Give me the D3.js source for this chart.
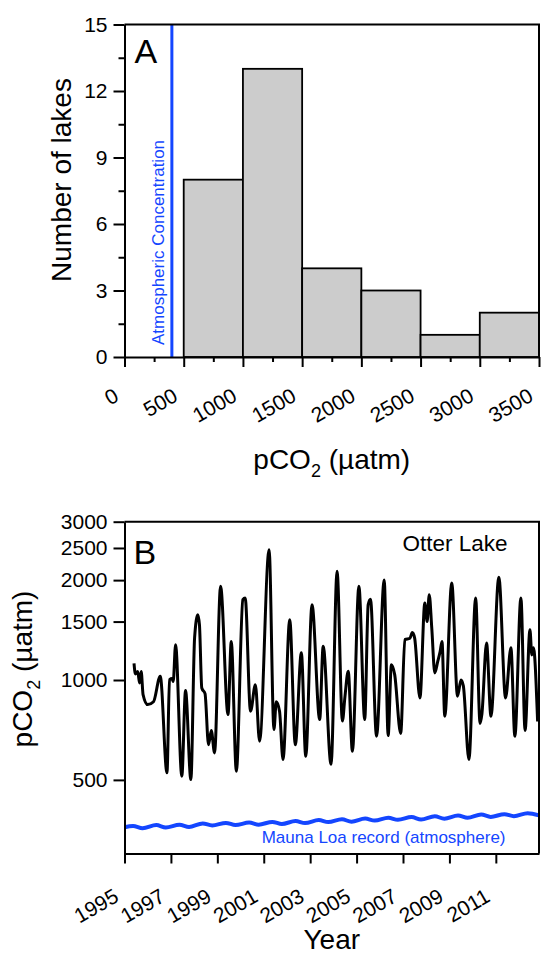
<!DOCTYPE html>
<meta charset="utf-8">
<style>

body {
  margin: 0;
  background: #fff;
}

text {
  font-family: "Liberation Sans", Arial, sans-serif;
  fill: #000;
}

.axis path,
.axis line {
  stroke: #000;
  stroke-width: 2px;
}

.axis text {
  font-size: 21px;
}

.minor line {
  stroke: #000;
  stroke-width: 2px;
}

.bars rect {
  fill: #cccccc;
  stroke: #000;
  stroke-width: 1.8px;
}

.title {
  font-size: 28px;
}

</style>
<body>
<svg width="541" height="955"></svg>
<script src="https://d3js.org/d3.v7.min.js"></script>
<script>

// panel A: histogram of lake pCO2
var binLow = [500, 1000, 1500, 2000, 2500, 3000];
var binHigh = [1000, 1500, 2000, 2500, 3000, 3500];
var lakeCounts = [8, 13, 4, 3, 1, 2];
var atmConc = 400;
var histXTicks = [0, 500, 1000, 1500, 2000, 2500, 3000, 3500];
var histXMinor = [250, 750, 1250, 1750, 2250, 2750, 3250];
var histYTicks = [0, 3, 6, 9, 12, 15];
var histYMinor = [1.5, 4.5, 7.5, 10.5, 13.5];

// panel B: Otter Lake time series
var otterYears = [1995.41, 1995.47, 1995.57, 1995.65, 1995.72, 1995.8, 1996.0, 1996.25, 1996.54, 1996.83,
  1996.94, 1997.05, 1997.1, 1997.2, 1997.47, 1997.63, 1997.86, 1998.02, 1998.16, 1998.23,
  1998.33, 1998.47, 1998.62, 1998.74, 1998.88, 1999.14, 1999.46, 1999.6, 1999.82, 2000.1,
  2000.2, 2000.43, 2000.64, 2000.82, 2001.23, 2001.44, 2001.54, 2001.68, 2001.83, 2002.12,
  2002.36, 2002.62, 2002.81, 2003.08, 2003.41, 2003.56, 2003.9, 2004.16, 2004.39, 2004.5,
  2004.64, 2004.82, 2005.1, 2005.35, 2005.5, 2005.6, 2005.86, 2006.19, 2006.36, 2006.5,
  2006.64, 2006.9, 2007.08, 2007.3, 2007.4, 2007.5, 2007.73, 2007.94, 2008.04, 2008.13,
  2008.24, 2008.37, 2008.5, 2008.6, 2008.68, 2008.8, 2009.1, 2009.35, 2009.5, 2009.6,
  2009.84, 2010.13, 2010.32, 2010.4, 2010.6, 2010.79, 2011.13, 2011.42, 2011.65, 2011.82,
  2012.08, 2012.26, 2012.47, 2012.55, 2012.62, 2012.8];
var otterPco2 = [1123, 1043, 1060, 980, 1060, 904, 843, 860, 1027, 525,
  1003, 1010, 990, 1277, 513, 929, 501, 1340, 1574, 1465,
  946, 910, 638, 705, 603, 1916, 787, 1307, 531, 1746,
  1767, 805, 968, 654, 2471, 709, 860, 805, 576, 1520,
  638, 1209, 589, 1687, 760, 1265, 557, 2126, 752, 893,
  1063, 610, 1916, 760, 1687, 1750, 677, 2003, 680, 1112,
  1040, 690, 1323, 1336, 1390, 1340, 883, 1706, 1500, 1808,
  1433, 1050, 1140, 1219, 1307, 778, 1960, 893, 1000, 960,
  576, 1767, 740, 790, 1292, 778, 2040, 883, 1250, 677,
  1767, 705, 1418, 1190, 1250, 750];

// Mauna Loa record, seasonal highs (May) and lows (Oct)
var maunaYears = [1995.0, 1995.37, 1995.78, 1996.37, 1996.78, 1997.37, 1997.78, 1998.37, 1998.78, 1999.37,
  1999.78, 2000.37, 2000.78, 2001.37, 2001.78, 2002.37, 2002.78, 2003.37, 2003.78, 2004.37,
  2004.78, 2005.37, 2005.78, 2006.37, 2006.78, 2007.37, 2007.78, 2008.37, 2008.78, 2009.37,
  2009.78, 2010.37, 2010.78, 2011.37, 2011.78, 2012.37, 2012.86];
var maunaPco2 = [359.9, 363.2, 357.5, 365.3, 359.5, 366.0, 360.6, 369.5, 364.5, 371.0,
  365.5, 371.8, 366.5, 373.6, 368.1, 375.9, 370.5, 378.5, 373.1, 380.5,
  373.9, 382.3, 377.0, 384.5, 378.9, 386.3, 379.9, 388.5, 381.8, 390.2,
  384.2, 393.1, 386.8, 394.2, 388.6, 396.8, 391.0];

var yearTicks = [1995, 1997, 1999, 2001, 2003, 2005, 2007, 2009, 2011];
var logTicks = [500, 1000, 1500, 2000, 2500, 3000];

var svg = d3.select("svg");

var left = 124.5, plotW = 414.5;
var topA = 24.5, plotHA = 332.5;
var topB = 521.7, plotHB = 331.8;
var blue = "#1446ff";

function styleXLabels(g, dy) {
  g.selectAll(".tick text")
      .attr("x", 0)
      .attr("y", 0)
      .attr("dy", 0)
      .attr("text-anchor", "end")
      .attr("transform", "translate(-5," + dy + ") rotate(-30)");
}

// ---------- panel A ----------
var gA = svg.append("g").attr("transform", "translate(" + left + "," + topA + ")");

var xA = d3.scaleLinear().domain([0, 3500]).range([0, plotW]);
var yA = d3.scaleLinear().domain([0, 15]).range([plotHA, 0]);

gA.append("g")
    .attr("class", "bars")
  .selectAll("rect")
  .data(lakeCounts)
  .enter().append("rect")
    .attr("x", function(d, i) { return xA(binLow[i]); })
    .attr("y", function(d) { return yA(d); })
    .attr("width", function(d, i) { return xA(binHigh[i]) - xA(binLow[i]); })
    .attr("height", function(d) { return yA(0) - yA(d); });

gA.append("line")
    .attr("x1", xA(atmConc)).attr("x2", xA(atmConc))
    .attr("y1", yA(0)).attr("y2", yA(15))
    .attr("stroke", blue)
    .attr("stroke-width", 3);

gA.append("text")
    .attr("transform", "translate(" + (xA(atmConc) - 8) + "," + (yA(0) - 12) + ") rotate(-90)")
    .style("fill", blue)
    .style("font-size", "17px")
    .text("Atmospheric Concentration");

// frame
gA.append("path")
    .attr("d", "M0,0H" + plotW + "V" + plotHA)
    .attr("fill", "none")
    .attr("stroke", "#000")
    .attr("stroke-width", 2);

gA.append("g")
    .attr("class", "minor")
    .attr("transform", "translate(0," + plotHA + ")")
    .call(d3.axisBottom(xA).tickValues(histXMinor).tickSize(5).tickSizeOuter(0).tickFormat(""))
    .call(function(g) { g.select(".domain").remove(); });

gA.append("g")
    .attr("class", "minor")
    .call(d3.axisLeft(yA).tickValues(histYMinor).tickSize(6).tickSizeOuter(0).tickFormat(""))
    .call(function(g) { g.select(".domain").remove(); });

gA.append("g")
    .attr("class", "axis")
    .attr("transform", "translate(0," + plotHA + ")")
    .call(d3.axisBottom(xA).tickValues(histXTicks).tickSize(10).tickSizeOuter(0).tickFormat(d3.format("d")))
    .call(styleXLabels, 43);

gA.append("g")
    .attr("class", "axis")
    .call(d3.axisLeft(yA).tickValues(histYTicks).tickSize(11).tickSizeOuter(0).tickPadding(6));

gA.append("text")
    .style("font-size", "34px")
    .attr("x", 10)
    .attr("y", 38.5)
    .text("A");

svg.append("text")
    .attr("class", "title")
    .attr("transform", "translate(71," + 180 + ") rotate(-90)")
    .attr("text-anchor", "middle")
    .text("Number of lakes");

var tA = svg.append("text")
    .attr("class", "title")
    .attr("x", left + plotW / 2)
    .attr("y", 469)
    .attr("text-anchor", "middle")
    .text("pCO");
tA.append("tspan").attr("dy", 8).style("font-size", "18px").text("2");
tA.append("tspan").attr("dy", -8).text(" (µatm)");

// ---------- panel B ----------
var gB = svg.append("g").attr("transform", "translate(" + left + "," + topB + ")");

var xB = d3.scaleLinear().domain([1995, 2012.86]).range([0, plotW]);
var yB = d3.scaleLog().domain([300, 3000]).range([plotHB, 0]);

var otter = otterYears.map(function(t, i) { return [t, otterPco2[i]]; });
var mauna = maunaYears.map(function(t, i) { return [t, maunaPco2[i]]; });

var line = d3.line()
    .x(function(d) { return xB(d[0]); })
    .y(function(d) { return yB(d[1]); })
    .curve(d3.curveMonotoneX);

gB.append("path")
    .datum(mauna)
    .attr("d", line)
    .attr("fill", "none")
    .attr("stroke", blue)
    .attr("stroke-width", 4);

gB.append("path")
    .datum(otter)
    .attr("d", line)
    .attr("fill", "none")
    .attr("stroke", "#000")
    .attr("stroke-width", 3)
    .attr("stroke-linejoin", "round");

gB.append("path")
    .attr("d", "M0,0H" + plotW + "V" + plotHB)
    .attr("fill", "none")
    .attr("stroke", "#000")
    .attr("stroke-width", 2);

gB.append("g")
    .attr("class", "axis")
    .attr("transform", "translate(0," + plotHB + ")")
    .call(d3.axisBottom(xB).tickValues(yearTicks).tickSize(10).tickSizeOuter(0).tickFormat(d3.format("d")))
    .call(styleXLabels, 47);

gB.append("g")
    .attr("class", "axis")
    .call(d3.axisLeft(yB).tickValues(logTicks).tickSize(11).tickSizeOuter(0).tickPadding(6).tickFormat(d3.format("d")));

gB.append("text")
    .style("font-size", "34px")
    .attr("x", 9)
    .attr("y", 42.5)
    .text("B");

gB.append("text")
    .style("font-size", "22.5px")
    .attr("x", 383)
    .attr("y", 29)
    .attr("text-anchor", "end")
    .text("Otter Lake");

gB.append("text")
    .style("font-size", "17px")
    .style("fill", blue)
    .attr("x", 381)
    .attr("y", 321)
    .attr("text-anchor", "end")
    .text("Mauna Loa record (atmosphere)");

var tB = svg.append("text")
    .attr("class", "title")
    .attr("transform", "translate(32,669) rotate(-90)")
    .attr("text-anchor", "middle")
    .text("pCO");
tB.append("tspan").attr("dy", 8).style("font-size", "18px").text("2");
tB.append("tspan").attr("dy", -8).text(" (µatm)");

svg.append("text")
    .attr("class", "title")
    .attr("x", left + plotW / 2)
    .attr("y", 949)
    .attr("text-anchor", "middle")
    .text("Year");

</script>
</body>
